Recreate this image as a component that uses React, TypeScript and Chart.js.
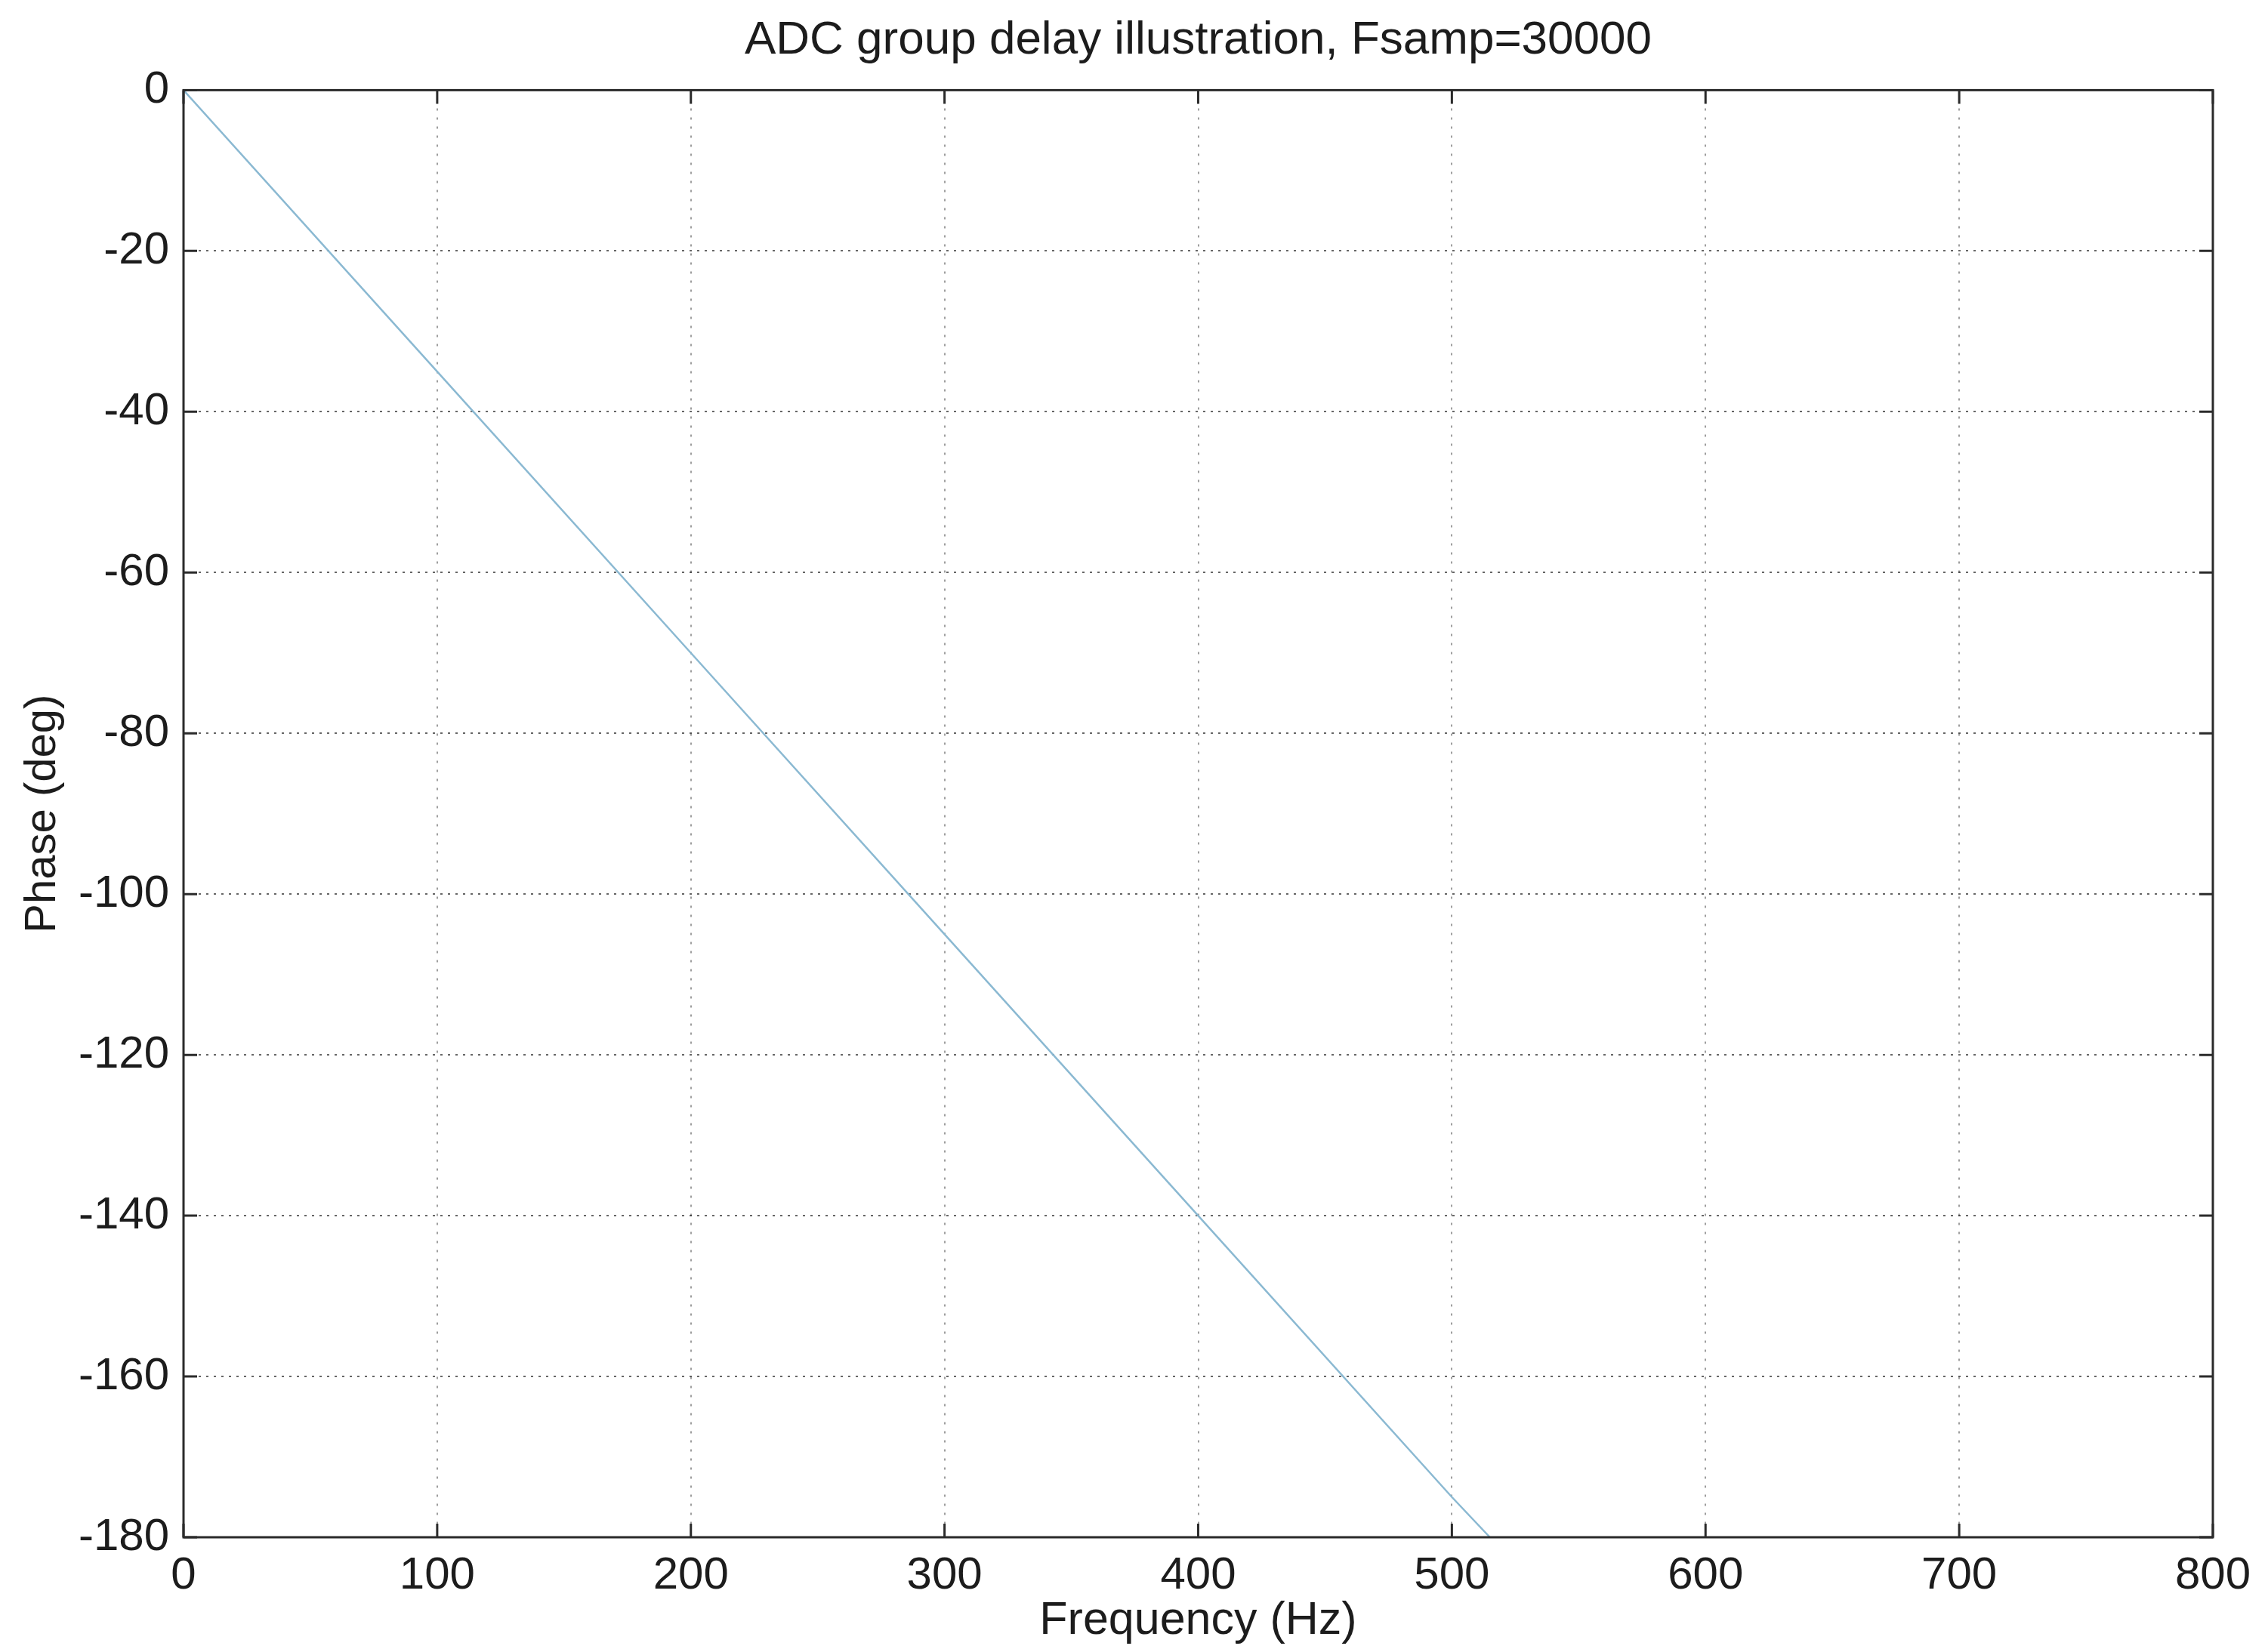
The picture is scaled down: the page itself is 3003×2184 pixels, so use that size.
import React, { useEffect, useRef } from "react";
import { Chart, registerables } from "chart.js";

Chart.register(...registerables);

// ---- data ----
const frequencyHz = [0, 100, 200, 300, 400, 500, 515];
const phaseDeg = [0, -35, -70, -105, -140, -175, -180];
const xTickValues = [0, 100, 200, 300, 400, 500, 600, 700, 800];
const yTickValues = [0, -20, -40, -60, -80, -100, -120, -140, -160, -180];
const titleText = "ADC group delay illustration, Fsamp=30000";
const xAxisLabel = "Frequency (Hz)";
const yAxisLabel = "Phase (deg)";

const W = 3003;
const H = 2184;
const FONT = "'Liberation Sans', Arial, Helvetica, sans-serif";
const TEXT = "#1c1c1c";

const boxPlugin = {
  id: "matlabBox",
  afterDatasetsDraw(chart: any) {
    const { ctx, chartArea, scales } = chart;
    const { left, right, top, bottom } = chartArea;
    const x = scales.x;
    const y = scales.y;
    ctx.save();
    ctx.strokeStyle = "#2b2b2b";
    ctx.lineWidth = 3;
    ctx.setLineDash([]);
    ctx.strokeRect(left, top, right - left, bottom - top);
    const L = 18;
    ctx.beginPath();
    xTickValues.forEach((v) => {
      const px = x.getPixelForValue(v);
      ctx.moveTo(px, bottom);
      ctx.lineTo(px, bottom - L);
      ctx.moveTo(px, top);
      ctx.lineTo(px, top + L);
    });
    yTickValues.forEach((v) => {
      const py = y.getPixelForValue(v);
      ctx.moveTo(left, py);
      ctx.lineTo(left + L, py);
      ctx.moveTo(right, py);
      ctx.lineTo(right - L, py);
    });
    ctx.stroke();
    ctx.restore();
  },
};

export default function App() {
  const ref = useRef<HTMLCanvasElement | null>(null);

  useEffect(() => {
    if (!ref.current) return;
    const points = frequencyHz.map((f, i) => ({ x: f, y: phaseDeg[i] }));
    const chart = new Chart(ref.current, {
      type: "scatter",
      data: {
        datasets: [
          {
            data: points,
            showLine: true,
            borderColor: "#8bb9d2",
            borderWidth: 2.5,
            pointRadius: 0,
            fill: false,
            tension: 0,
          },
        ],
      },
      options: {
        responsive: false,
        animation: false,
        devicePixelRatio: 1,
        layout: { padding: { left: 0, right: 73, top: 0, bottom: 0 } },
        plugins: {
          legend: { display: false },
          tooltip: { enabled: false },
          title: {
            display: true,
            fullSize: false,
            text: titleText,
            color: TEXT,
            font: { family: FONT, size: 62, weight: "normal" },
            padding: { top: 17, bottom: 28 },
          },
        },
        scales: {
          x: {
            type: "linear",
            min: 0,
            max: 800,
            afterFit: (s: any) => {
              s.height = 148;
            },
            ticks: {
              stepSize: 100,
              color: TEXT,
              padding: 15,
              maxRotation: 0,
              font: { family: FONT, size: 60 },
            },
            grid: {
              drawTicks: false,
              color: "rgba(0,0,0,0.38)",
              lineWidth: 2,
            },
            border: { display: false, dash: [3, 9] },
            title: {
              display: true,
              text: xAxisLabel,
              color: TEXT,
              font: { family: FONT, size: 61 },
              padding: { top: 0, bottom: 0 },
            },
          },
          y: {
            type: "linear",
            min: -180,
            max: 0,
            afterFit: (s: any) => {
              s.width = 243;
            },
            ticks: {
              stepSize: 20,
              color: TEXT,
              padding: 19,
              font: { family: FONT, size: 60 },
            },
            grid: {
              drawTicks: false,
              color: "rgba(0,0,0,0.6)",
              lineWidth: 2,
            },
            border: { display: false, dash: [3, 7] },
            title: {
              display: true,
              text: yAxisLabel,
              color: TEXT,
              font: { family: FONT, size: 58 },
              padding: { top: 22, bottom: 0 },
            },
          },
        },
      },
      plugins: [boxPlugin],
    });
    return () => chart.destroy();
  }, []);

  return (
    <div style={{ position: "absolute", left: 0, top: 0, width: W, height: H, background: "#ffffff" }}>
      <canvas ref={ref} width={W} height={H} style={{ width: W, height: H, display: "block" }} />
    </div>
  );
}
